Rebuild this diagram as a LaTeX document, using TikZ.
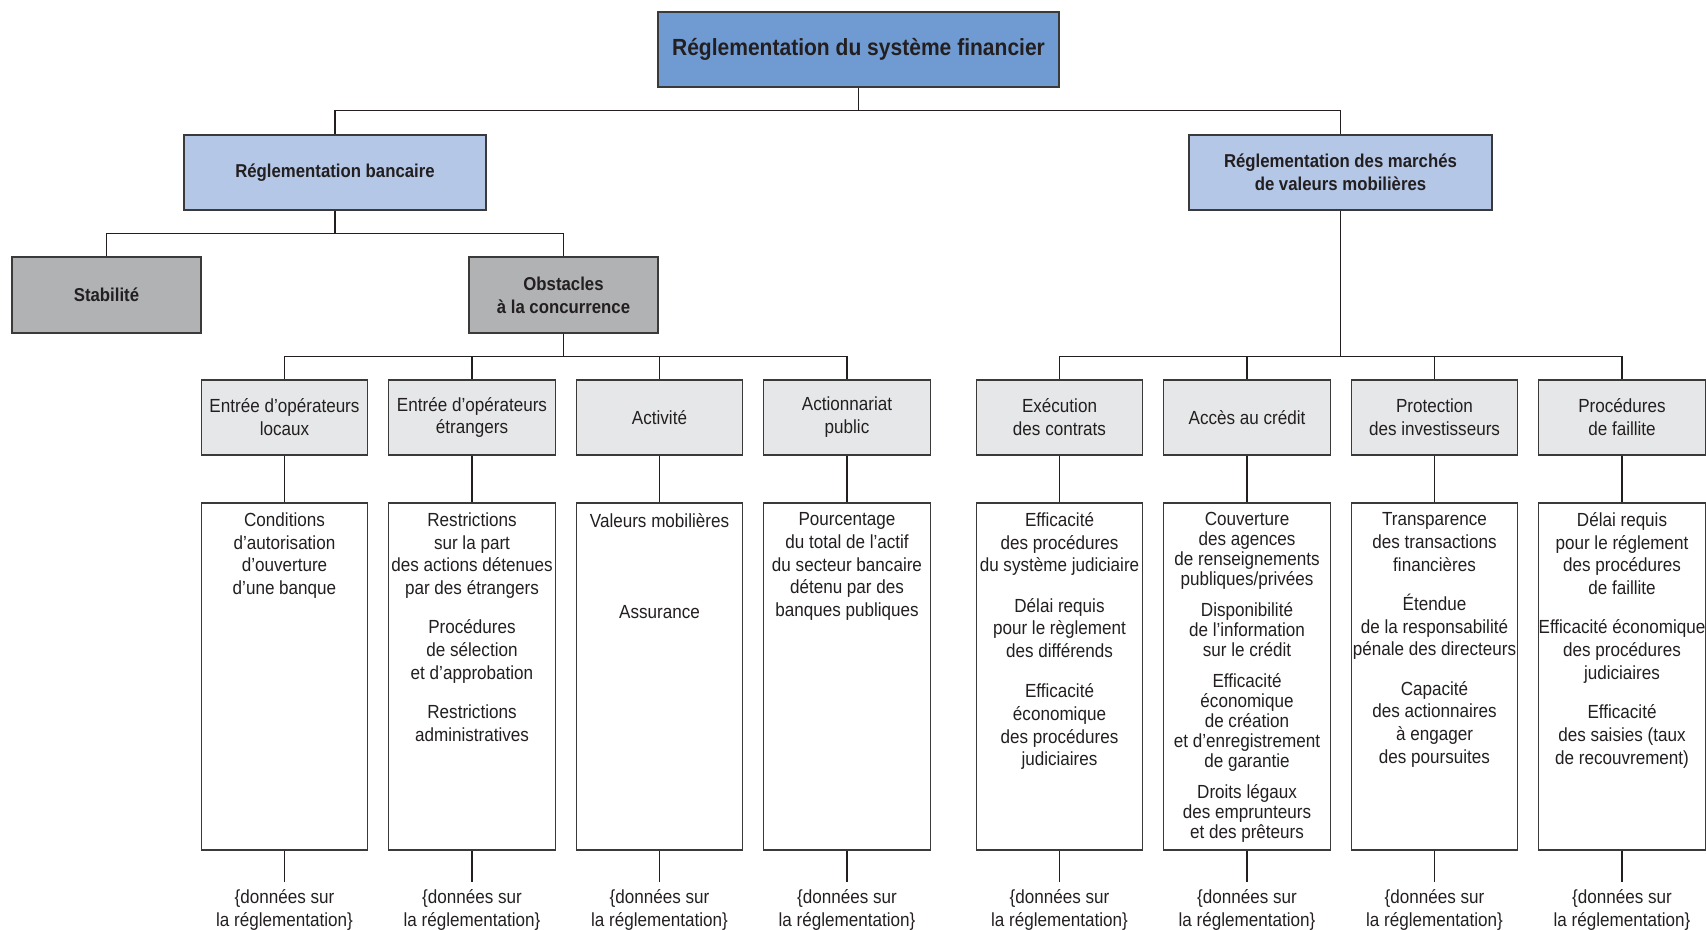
\documentclass[tikz,border=0pt]{standalone}
\usepackage{fontspec}
\setmainfont[FakeStretch=0.9]{Liberation Sans}
\usetikzlibrary{positioning}
\definecolor{topblue}{HTML}{709BD2}
\definecolor{ltblue}{HTML}{B4C7E7}
\definecolor{midgray}{HTML}{B0B2B4}
\definecolor{ltgray}{HTML}{E6E7E8}
\definecolor{inkdark}{HTML}{231F20}
\definecolor{edgegray}{HTML}{3A3A3A}

\begin{document}
\begin{tikzpicture}[
  link/.style={draw=inkdark, line width=0.6pt},
  rootbox/.style={draw=edgegray, line width=1pt, fill=topblue,
    minimum width=8.02cm, minimum height=1.5cm, inner sep=0pt,
    font=\fontsize{13.3}{16}\selectfont\bfseries, text=inkdark},
  areabox/.style={draw=edgegray, line width=0.9pt, fill=ltblue,
    minimum width=6.05cm, minimum height=1.5cm, inner sep=0pt, align=center,
    font=\fontsize{10.6}{13}\selectfont\bfseries, text=inkdark},
  themebox/.style={draw=edgegray, line width=0.9pt, fill=midgray,
    minimum width=3.78cm, minimum height=1.52cm, inner sep=0pt, align=center,
    font=\fontsize{10.6}{13}\selectfont\bfseries, text=inkdark},
  catbox/.style={draw=edgegray, line width=0.8pt, fill=ltgray,
    minimum width=3.33cm, minimum height=1.5cm, inner sep=0pt, align=center,
    font=\fontsize{10.8}{13}\selectfont, text=inkdark},
  detailbox/.style={draw=edgegray, line width=0.8pt, fill=white,
    minimum width=3.33cm, minimum height=6.94cm, inner sep=0pt},
  detailtext/.style={inner sep=0pt, align=center,
    font=\fontsize{10.8}{12.9}\selectfont, text=inkdark},
  datanote/.style={inner xsep=1pt, inner ysep=4.5pt, align=center,
    font=\fontsize{10.8}{13}\selectfont, text=inkdark},
]

\useasboundingbox (0,0) rectangle (34.12,18.6);

% ========================================
% Top levels
% ========================================
\node[rootbox] (root) at (17.17,17.61) {Réglementation du système financier};

\node[areabox] (bank) at (6.70,15.15) {Réglementation bancaire};
\node[areabox] (mkt) at (26.81,15.15) {Réglementation des marchés\\de valeurs mobilières};

\draw[link] (root.south) -- ++(0,-0.46) -| (bank.north);
\draw[link] (root.south) -- ++(0,-0.46) -| (mkt.north);

\node[themebox] (stab) at (2.13,12.70) {Stabilité};
\node[themebox] (obst) at (11.27,12.70) {Obstacles\\à la concurrence};

\draw[link] (bank.south) -- ++(0,-0.46) -| (stab.north);
\draw[link] (bank.south) -- ++(0,-0.46) -| (obst.north);

% ========================================
% Categories
% ========================================
\node[catbox] (c1) at (5.69,10.25) {Entrée d’opérateurs\\locaux};
\node[catbox] (c2) at (9.44,10.25) {Entrée d’opérateurs\\étrangers};
\node[catbox] (c3) at (13.19,10.25) {Activité};
\node[catbox] (c4) at (16.94,10.25) {Actionnariat\\public};
\node[catbox] (c5) at (21.19,10.25) {Exécution\\des contrats};
\node[catbox] (c6) at (24.94,10.25) {Accès au crédit};
\node[catbox] (c7) at (28.69,10.25) {Protection\\des investisseurs};
\node[catbox] (c8) at (32.44,10.25) {Procédures\\de faillite};

\draw[link] (obst.south) -- ++(0,-0.46) -| (c1.north);
\draw[link] (obst.south) -- ++(0,-0.46) -| (c2.north);
\draw[link] (obst.south) -- ++(0,-0.46) -| (c3.north);
\draw[link] (obst.south) -- ++(0,-0.46) -| (c4.north);

\draw[link] (mkt.south) -- ++(0,-2.92) -| (c5.north);
\draw[link] (mkt.south) -- ++(0,-2.92) -| (c6.north);
\draw[link] (mkt.south) -- ++(0,-2.92) -| (c7.north);
\draw[link] (mkt.south) -- ++(0,-2.92) -| (c8.north);

% ========================================
% Indicator boxes
% ========================================
\node[detailbox] (d1) at (5.69,5.07) {};
\node[detailbox] (d2) at (9.44,5.07) {};
\node[detailbox] (d3) at (13.19,5.07) {};
\node[detailbox] (d4) at (16.94,5.07) {};
\node[detailbox] (d5) at (21.19,5.07) {};
\node[detailbox] (d6) at (24.94,5.07) {};
\node[detailbox] (d7) at (28.69,5.07) {};
\node[detailbox] (d8) at (32.44,5.07) {};

\draw[link] (c1.south) -- (d1.north);
\draw[link] (c2.south) -- (d2.north);
\draw[link] (c3.south) -- (d3.north);
\draw[link] (c4.south) -- (d4.north);
\draw[link] (c5.south) -- (d5.north);
\draw[link] (c6.south) -- (d6.north);
\draw[link] (c7.south) -- (d7.north);
\draw[link] (c8.south) -- (d8.north);

\node[detailtext, below=0.2cm of d1.north] (t1)
  {Conditions\\d’autorisation\\d’ouverture\\d’une banque};
\node[detailtext, below=0.2cm of d2.north] (t2)
  {Restrictions\\sur la part\\des actions détenues\\par des étrangers\\[9.5pt]
   Procédures\\de sélection\\et d’approbation\\[9.5pt]
   Restrictions\\administratives};
\node[detailtext, below=0.22cm of d3.north] (t3)
  {Valeurs mobilières\\[39pt]Assurance};
\node[detailtext, below=0.2cm of d4.north] (t4)
  {Pourcentage\\du total de l’actif\\du secteur bancaire\\détenu par des\\banques publiques};
\node[detailtext, below=0.2cm of d5.north] (t5)
  {Efficacité\\des procédures\\du système judiciaire\\[10pt]
   Délai requis\\pour le règlement\\des différends\\[10pt]
   Efficacité\\économique\\des procédures\\judiciaires};
\node[detailtext, below=0.2cm of d6.north, font=\fontsize{10.8}{11.3}\selectfont] (t6)
  {Couverture\\des agences\\de renseignements\\publiques/privées\\[6.5pt]
   Disponibilité\\de l’information\\sur le crédit\\[6.5pt]
   Efficacité\\économique\\de création\\et d’enregistrement\\de garantie\\[6.5pt]
   Droits légaux\\des emprunteurs\\et des prêteurs};
\node[detailtext, below=0.2cm of d7.north] (t7)
  {Transparence\\des transactions\\financières\\[9.5pt]
   Étendue\\de la responsabilité\\pénale des directeurs\\[9.5pt]
   Capacité\\des actionnaires\\à engager\\des poursuites};
\node[detailtext, below=0.2cm of d8.north] (t8)
  {Délai requis\\pour le réglement\\des procédures\\de faillite\\[9.5pt]
   Efficacité économique\\des procédures\\judiciaires\\[9.5pt]
   Efficacité\\des saisies (taux\\de recouvrement)};

% ========================================
% Data notes
% ========================================
\node[datanote, below=0.62cm of d1] (n1) {\{données sur\\la réglementation\}};
\node[datanote, below=0.62cm of d2] (n2) {\{données sur\\la réglementation\}};
\node[datanote, below=0.62cm of d3] (n3) {\{données sur\\la réglementation\}};
\node[datanote, below=0.62cm of d4] (n4) {\{données sur\\la réglementation\}};
\node[datanote, below=0.62cm of d5] (n5) {\{données sur\\la réglementation\}};
\node[datanote, below=0.62cm of d6] (n6) {\{données sur\\la réglementation\}};
\node[datanote, below=0.62cm of d7] (n7) {\{données sur\\la réglementation\}};
\node[datanote, below=0.62cm of d8] (n8) {\{données sur\\la réglementation\}};

\draw[link] (d1.south) -- (n1.north);
\draw[link] (d2.south) -- (n2.north);
\draw[link] (d3.south) -- (n3.north);
\draw[link] (d4.south) -- (n4.north);
\draw[link] (d5.south) -- (n5.north);
\draw[link] (d6.south) -- (n6.north);
\draw[link] (d7.south) -- (n7.north);
\draw[link] (d8.south) -- (n8.north);

\end{tikzpicture}
\end{document}
